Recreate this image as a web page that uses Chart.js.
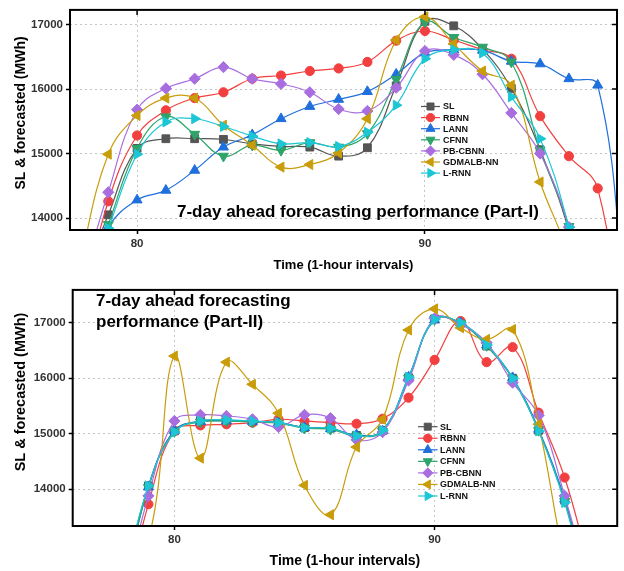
<!DOCTYPE html>
<html><head><meta charset="utf-8">
<script src="https://cdn.jsdelivr.net/npm/chart.js@4.4.1/dist/chart.umd.min.js"></script>
<style>
html,body{margin:0;padding:0;background:#fff;width:624px;height:571px;overflow:hidden}
canvas{position:absolute;left:0}
#c1{top:0}
#c2{top:280px}
</style></head><body>
<canvas id="c1" width="624" height="280"></canvas>
<canvas id="c2" width="624" height="291"></canvas>
<script>
// ---------- data ----------
const seriesNames = ['SL','RBNN','LANN','CFNN','PB-CBNN','GDMALB-NN','L-RNN'];
const xTicks = [80, 90];
const yTicks = [14000, 15000, 16000, 17000];

// Part-I (top panel)
const hoursA = [78,79,80,81,82,83,84,85,86,87,88,89,90,91,92,93,94,95,96,97];
const slA    = [12900,14050,15080,15230,15230,15220,15150,15110,15100,14960,15090,16050,17050,16980,16620,16010,15060,13800,12000,11000];
const rbnnA  = [12500,14260,15280,15670,15860,15950,16160,16210,16280,16320,16420,16750,16900,16760,16610,16470,15580,14960,14460,11500];
const lannA  = [12800,13860,14280,14430,14740,15100,15290,15540,15730,15840,15960,16230,16560,16610,16600,16430,16390,16160,16060,12500];
const cfnnA  = [12700,13900,15080,15570,15300,14960,15130,15050,15170,15100,15310,16150,17040,16800,16650,16420,15050,13870,12000,11000];
const pbA    = [12900,14400,15680,16010,16160,16340,16160,16080,15950,15690,15660,16020,16590,16530,16230,15630,15000,13860,12000,11000];
const gdA    = [13300,14990,15590,15860,15860,15440,15130,14790,14830,15010,15540,16760,17120,16700,16280,16060,14560,13400,11500,11000];
const lrnnA  = [12700,13840,14990,15490,15540,15420,15270,15150,15170,15110,15330,15750,16470,16610,16560,15880,15230,13860,12000,11000];

// Part-II (bottom panel)
const hoursB = [78,79,80,81,82,83,84,85,86,87,88,89,90,91,92,93,94,95,96];
const slB    = [12200,14060,15050,15230,15240,15220,15200,15110,15100,14970,15060,16010,17070,16990,16580,16000,15060,13800,12000];
const rbnnB  = [11800,13730,15050,15150,15170,15200,15260,15230,15200,15180,15270,15650,16330,17030,16290,16560,15380,14210,12500];
const lannB  = [12100,14040,15060,15220,15230,15220,15200,15110,15090,14980,15050,16020,17050,17000,16600,16010,15080,13820,12000];
const cfnnB  = [12150,14030,15040,15210,15230,15210,15190,15100,15080,14960,15040,16000,17060,16990,16590,15990,15060,13780,12000];
const pbB    = [12000,13880,15230,15340,15320,15260,15120,15340,15280,14890,15030,15960,17080,16970,16640,15920,15330,13880,12200];
const gdB    = [13000,13100,16400,14560,16290,15890,15370,14070,13540,14760,15260,16870,17250,16910,16700,16880,15170,12700,11000];
const lrnnB  = [12300,14060,15030,15230,15250,15230,15200,15110,15100,14960,15060,16020,17060,17000,16600,16000,15050,13760,11900];

// ---------- styles ----------
const colors   = ['#555555','#f23f3f','#1f6fdc','#2ea46a','#a86ee0','#c99c0a','#1cc6d4'];
const pStyles  = ['rect','circle','triangle','triangle','rectRot','triangle','triangle'];
const pRot     = [0,0,0,180,0,270,90];
const pRad     = [5.5,4.6,5.8,5.8,5.6,5.8,5.8];
const FONT = "'Liberation Sans', Arial, sans-serif";

function drawMarker(ctx, style, rot, r, x, y, color){
  ctx.save();
  ctx.fillStyle = color; ctx.strokeStyle = color; ctx.lineWidth = 1;
  if (Chart.helpers && Chart.helpers.drawPoint) {
    Chart.helpers.drawPoint(ctx, {pointStyle: style, rotation: rot, radius: r, borderWidth: 1}, x, y);
  } else {
    ctx.beginPath(); ctx.arc(x, y, r, 0, Math.PI*2); ctx.fill();
  }
  ctx.restore();
}

function makeChart(id, hours, seriesVals, cfg){
  const datasets = seriesVals.map((vals, i) => ({
    label: seriesNames[i],
    data: hours.map((h, k) => ({x: h, y: vals[k]})),
    borderColor: colors[i],
    backgroundColor: colors[i],
    borderWidth: 1.2,
    pointStyle: pStyles[i],
    pointRotation: pRot[i],
    pointRadius: pRad[i],
    pointBorderWidth: 1,
    pointBackgroundColor: colors[i],
    pointBorderColor: colors[i],
    tension: 0.4,
    order: 7 - i
  }));

  const panelPlugin = {
    id: 'panel_' + id,
    afterDatasetsDraw(chart){
      const ctx = chart.ctx, a = chart.chartArea;
      const xs = chart.scales.x, ys = chart.scales.y;
      ctx.save();
      // frame
      ctx.strokeStyle = '#000'; ctx.lineWidth = 2;
      ctx.strokeRect(a.left, a.top, a.right - a.left, a.bottom - a.top);
      // inward ticks on top and right
      ctx.lineWidth = 1.5;
      ctx.beginPath();
      xTicks.forEach(v => { const px = xs.getPixelForValue(v); ctx.moveTo(px, a.top); ctx.lineTo(px, a.top + 5); });
      yTicks.forEach(v => { const py = ys.getPixelForValue(v); ctx.moveTo(a.right, py); ctx.lineTo(a.right - 5, py); });
      ctx.stroke();
      // legend
      ctx.font = 'bold 9px ' + FONT;
      ctx.textBaseline = 'middle'; ctx.textAlign = 'left';
      seriesNames.forEach((n, i) => {
        const y = cfg.legY + i * cfg.legDy;
        ctx.strokeStyle = colors[i]; ctx.lineWidth = 1.2;
        ctx.beginPath(); ctx.moveTo(cfg.legX0, y); ctx.lineTo(cfg.legX1, y); ctx.stroke();
        drawMarker(ctx, pStyles[i], pRot[i], pRad[i] * 0.9, (cfg.legX0 + cfg.legX1) / 2, y, colors[i]);
        ctx.fillStyle = '#111';
        ctx.fillText(n, cfg.legTx, y + 0.5);
      });
      // panel title
      ctx.fillStyle = '#000';
      ctx.font = 'bold 17px ' + FONT;
      ctx.textAlign = 'left';
      cfg.title.forEach((t, k) => ctx.fillText(t, cfg.titleX, cfg.titleY + k * cfg.titleDy));
      // axis titles
      ctx.font = 'bold ' + cfg.xtSize + 'px ' + FONT;
      ctx.textAlign = 'center';
      ctx.fillText('Time (1-hour intervals)', (a.left + a.right) / 2, cfg.xtY);
      ctx.save();
      ctx.translate(cfg.ytX, cfg.ytY);
      ctx.rotate(-Math.PI / 2);
      ctx.font = 'bold ' + cfg.ytSize + 'px ' + FONT;
      ctx.fillText('SL & forecasted (MWh)', 0, 0);
      ctx.restore();
      ctx.restore();
    }
  };

  return new Chart(document.getElementById(id), {
    type: 'line',
    data: { datasets },
    options: {
      responsive: false, animation: false, devicePixelRatio: 1,
      layout: { padding: { left: 0, right: cfg.padR, top: cfg.padT, bottom: 0 } },
      plugins: { legend: { display: false }, tooltip: { enabled: false }, title: { display: false } },
      scales: {
        x: {
          type: 'linear', min: cfg.xMin, max: cfg.xMax,
          afterBuildTicks: s => { s.ticks = xTicks.map(v => ({ value: v })); },
          afterFit: s => { s.height = cfg.xH; },
          grid: { color: '#c4c4c4', lineWidth: 1, tickColor: '#000', tickLength: 4, tickWidth: 1.5, tickBorderDash: [] },
          border: { display: false, dash: [2, 3] },
          ticks: { color: '#333', font: { family: FONT, size: 11.5, weight: 'bold' }, padding: 3, maxRotation: 0,
                   callback: v => String(v) }
        },
        y: {
          type: 'linear', min: cfg.yMin, max: cfg.yMax,
          afterBuildTicks: s => { s.ticks = yTicks.map(v => ({ value: v })); },
          afterFit: s => { s.width = cfg.yW; },
          grid: { color: '#c4c4c4', lineWidth: 1, tickColor: '#000', tickLength: 4, tickWidth: 1.5, tickBorderDash: [] },
          border: { display: false, dash: [2, 3] },
          ticks: { color: '#333', font: { family: FONT, size: 11.5, weight: 'bold' }, padding: 3,
                   callback: v => String(v) }
        }
      }
    },
    plugins: [panelPlugin]
  });
}

makeChart('c1', hoursA, [slA, rbnnA, lannA, cfnnA, pbA, gdA, lrnnA], {
  xMin: 77.67, xMax: 96.67, yMin: 13815, yMax: 17227,
  padR: 7, padT: 9, xH: 50, yW: 70,
  legY: 106.5, legDy: 11.1, legX0: 421, legX1: 440, legTx: 443,
  title: ['7-day ahead forecasting performance (Part-I)'], titleX: 177, titleY: 212, titleDy: 0,
  xtSize: 13, xtY: 265, ytX: 21, ytY: 113, ytSize: 14
});

makeChart('c2', hoursB, [slB, rbnnB, lannB, cfnnB, pbB, gdB, lrnnB], {
  xMin: 76.09, xMax: 97.02, yMin: 13337, yMax: 17592,
  padR: 5.7, padT: 4, xH: 45, yW: 72.7,
  legY: 146.7, legDy: 11.55, legX0: 418, legX1: 437.5, legTx: 440,
  title: ['7-day ahead forecasting', 'performance (Part-II)'], titleX: 96, titleY: 21, titleDy: 21.5,
  xtSize: 14, xtY: 281.5, ytX: 21, ytY: 112, ytSize: 14.5
});
</script>
</body></html>
